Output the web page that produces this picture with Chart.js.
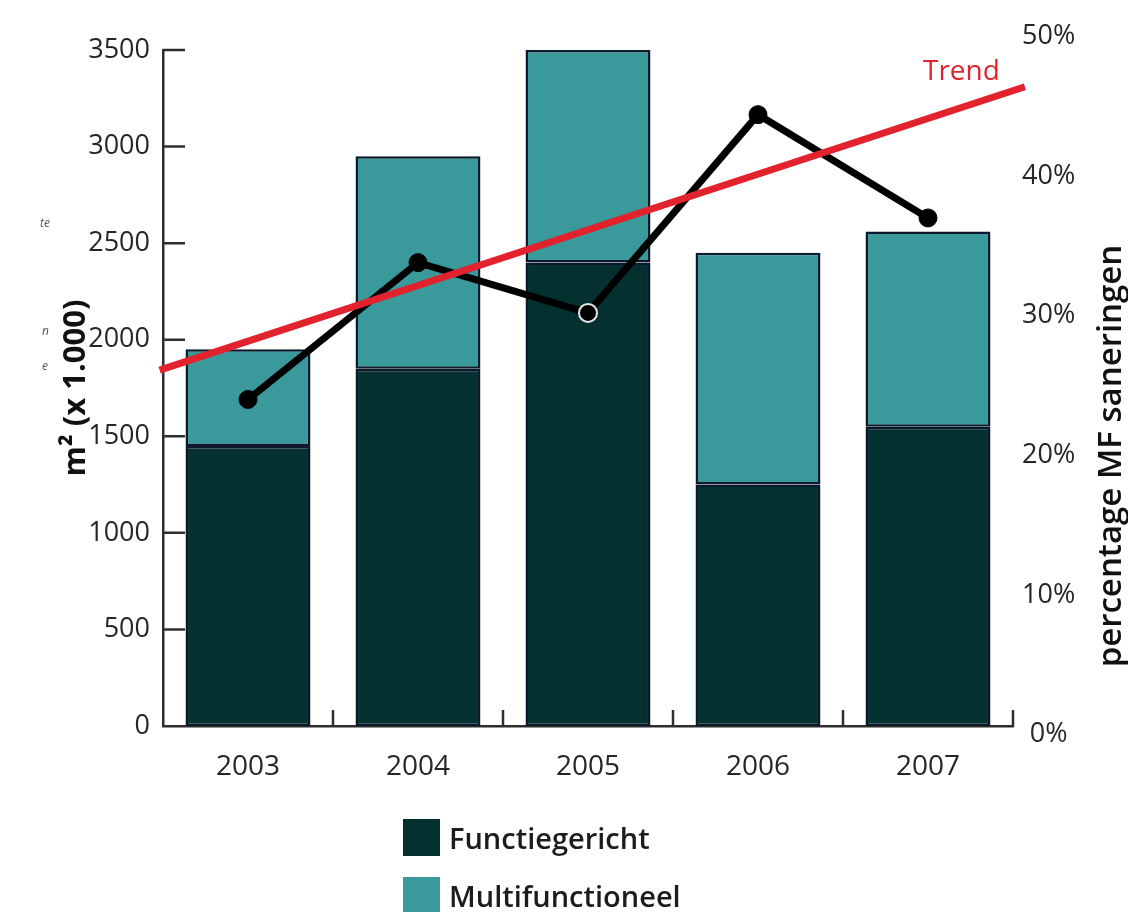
<!DOCTYPE html>
<html>
<head>
<meta charset="utf-8">
<script src="https://cdn.jsdelivr.net/npm/chart.js@4/dist/chart.umd.min.js"></script>
<style>
html,body{margin:0;padding:0;background:#fff;}
#wrap{position:relative;width:1128px;height:912px;overflow:hidden;background:#fff;}
#c{position:absolute;left:0;top:0;}
.lg{position:absolute;left:403px;display:flex;align-items:center;font-family:"Open Sans",sans-serif;font-weight:600;font-size:29px;color:#1c1c1c;white-space:nowrap;}
.lg i{display:inline-block;width:37px;height:37px;margin-right:9px;}
.stray{position:absolute;font-family:"Open Sans",sans-serif;font-style:italic;font-size:12px;color:#555;}
</style>
</head>
<body>
<div id="wrap">
<canvas id="c" width="1128" height="912"></canvas>
<div id="legend"></div>
<span class="stray" style="left:40px;top:214px">te</span>
<span class="stray" style="left:42px;top:322px">n</span>
<span class="stray" style="left:42px;top:357px">e</span>
</div>
<script>
// ---- data ----
const years = ['2003', '2004', '2005', '2006', '2007'];
const functiegericht = [1450, 1850, 2400, 1250, 1550];
const multifunctioneel = [500, 1100, 1100, 1200, 1010];
const percentageMF = [24.0, 33.8, 30.2, 44.4, 37.0];
const trendX = [-0.52, 4.57];
const trendY = [26.1, 46.4];
const leftTicks = [0, 500, 1000, 1500, 2000, 2500, 3000, 3500];
const rightTicks = [0, 10, 20, 30, 40, 50];
const seriesNames = ['Functiegericht', 'Multifunctioneel'];
const seriesColors = ['#04302f', '#3a9a9b'];
const leftTitle = 'm² (x 1.000)';
const rightTitle = 'percentage MF saneringen';
const trendLabel = 'Trend';

const FONT = '"Open Sans", sans-serif';

// HTML legend (stacked vertically)
const lg = document.getElementById('legend');
seriesNames.forEach((n, i) => {
  const d = document.createElement('div');
  d.className = 'lg';
  d.style.top = (818 + i * 58) + 'px';
  const sq = document.createElement('i');
  sq.style.background = seriesColors[i];
  d.appendChild(sq);
  d.appendChild(document.createTextNode(n));
  lg.appendChild(d);
});

const axisDecor = {
  id: 'axisDecor',
  beforeDatasetsDraw(chart) {
    const ctx = chart.ctx, ca = chart.chartArea;
    const y = chart.scales.y, x = chart.scales.x;
    const y0 = y.getPixelForValue(0);
    ctx.save();
    ctx.strokeStyle = '#2e2e2e';
    ctx.lineWidth = 2.5;
    ctx.beginPath();
    leftTicks.forEach(v => {
      if (v === 0) return;
      const py = y.getPixelForValue(v);
      ctx.moveTo(ca.left, py);
      ctx.lineTo(ca.left + 22, py);
    });
    for (let i = 1; i < years.length; i++) {
      const px = (x.getPixelForValue(i - 1) + x.getPixelForValue(i)) / 2;
      ctx.moveTo(px, y0);
      ctx.lineTo(px, y0 - 16);
    }
    ctx.moveTo(ca.right, y0 + 1);
    ctx.lineTo(ca.right, y0 - 16);
    ctx.stroke();
    ctx.restore();
  },
  afterDatasetsDraw(chart) {
    const ctx = chart.ctx, ca = chart.chartArea;
    const xt = chart.scales.xt, y1 = chart.scales.y1;
    const px = xt.getPixelForValue(trendX[1]);
    const py = y1.getPixelForValue(trendY[1]);
    ctx.save();
    ctx.fillStyle = '#e2222c';
    ctx.font = '28px ' + FONT;
    ctx.textAlign = 'right';
    ctx.textBaseline = 'alphabetic';
    ctx.fillText(trendLabel, px - 25, py - 7);
    ctx.restore();
    // right axis title, reading bottom-to-top
    ctx.save();
    ctx.translate(y1.right - 16, ca.bottom - 270);
    ctx.rotate(-Math.PI / 2);
    ctx.fillStyle = '#111';
    ctx.font = '600 33px ' + FONT;
    ctx.textAlign = 'center';
    ctx.textBaseline = 'middle';
    ctx.fillText(rightTitle, 0, 0);
    ctx.restore();
  }
};

const barCommon = {
  type: 'bar', borderColor: '#0a1a2c', borderWidth: 2.5, borderSkipped: false,
  yAxisID: 'y', xAxisID: 'x', order: 3, stack: 'm2', grouped: false,
  barPercentage: 0.735, categoryPercentage: 1
};

new Chart(document.getElementById('c'), {
  data: {
    labels: years,
    datasets: [
      Object.assign({}, barCommon, { label: seriesNames[0], data: functiegericht, backgroundColor: seriesColors[0] }),
      Object.assign({}, barCommon, { label: seriesNames[1], data: multifunctioneel, backgroundColor: seriesColors[1] }),
      {
        type: 'line', label: 'percentage MF', data: percentageMF,
        yAxisID: 'y1', xAxisID: 'x', order: 1,
        borderColor: '#000', borderWidth: 7, tension: 0,
        pointRadius: 9, pointHoverRadius: 9,
        pointBackgroundColor: '#000',
        pointBorderColor: ['#000', '#000', '#e6e6e6', '#000', '#000'],
        pointBorderWidth: [1, 1, 2, 1, 1]
      },
      {
        type: 'line', label: trendLabel,
        data: trendX.map((v, i) => ({ x: v, y: trendY[i] })),
        xAxisID: 'xt', yAxisID: 'y1', order: 0,
        borderColor: '#e2222c', borderWidth: 7, pointRadius: 0, clip: false
      }
    ]
  },
  options: {
    responsive: false,
    animation: false,
    events: [],
    layout: { padding: { left: 58, top: 50, right: 0, bottom: 126 } },
    plugins: { legend: { display: false }, tooltip: { enabled: false } },
    scales: {
      x: {
        type: 'category', stacked: true, offset: true,
        grid: { display: false, drawTicks: false },
        border: { display: true, color: '#2e2e2e', width: 2.5 },
        ticks: { color: '#262626', font: { family: FONT, size: 28, weight: '500' }, padding: 24 },
        afterFit: s => { s.height = 60; }
      },
      xt: { type: 'linear', display: false, min: -0.5, max: 4.5 },
      y: {
        type: 'linear', position: 'left', stacked: true, min: 0, max: 3500,
        afterBuildTicks: s => { s.ticks = leftTicks.map(v => ({ value: v })); },
        grid: { display: false, drawTicks: false },
        border: { display: true, color: '#2e2e2e', width: 2.5 },
        ticks: {
          color: '#262626', font: { family: FONT, size: 27, weight: '500' }, padding: 13,
          callback: v => String(v)
        },
        title: {
          display: true, text: leftTitle, color: '#111',
          font: { family: FONT, size: 31, weight: 'bold' }, padding: 0
        },
        afterFit: s => { s.width = 105; }
      },
      y1: {
        type: 'linear', position: 'right', min: 0.61, max: 49.03,
        afterBuildTicks: s => { s.ticks = rightTicks.map(v => ({ value: v })); },
        grid: { display: false, drawTicks: false },
        border: { display: false },
        ticks: {
          color: '#262626', font: { family: FONT, size: 27, weight: '500' }, padding: 9,
          crossAlign: 'center', callback: v => v + '%'
        },
        title: { display: false },
        afterFit: s => { s.width = 115; }
      }
    }
  },
  plugins: [axisDecor]
});
</script>
</body>
</html>
